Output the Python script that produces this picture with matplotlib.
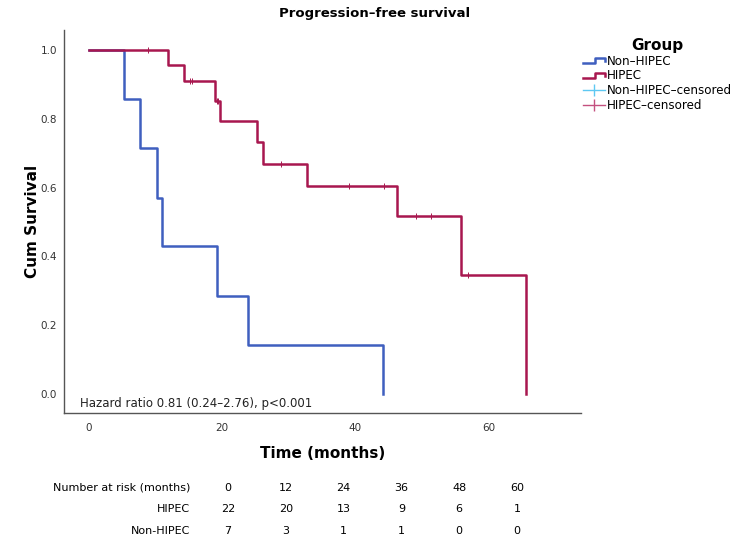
import numpy as np
import matplotlib.pyplot as plt
from matplotlib.lines import Line2D
from matplotlib.legend_handler import HandlerBase

# Kaplan-Meier steps
hipec_t = [0, 11.8, 14.3, 19.0, 19.7, 25.3, 26.2, 32.7, 46.2, 55.9, 65.7]
hipec_s = [1.0, 0.955, 0.909, 0.853, 0.795, 0.733, 0.670, 0.605, 0.518, 0.345, 0.0]
hipec_cens = [8.8, 15.1, 15.5, 19.2, 19.4, 28.9, 39.0, 44.3, 49.1, 51.3, 57.0]

non_t = [0, 5.3, 7.6, 10.2, 11.0, 19.3, 23.9, 44.2]
non_s = [1.0, 0.857, 0.714, 0.571, 0.429, 0.286, 0.143, 0.0]

risk_months = [0, 12, 24, 36, 48, 60]
risk_hipec = [22, 20, 13, 9, 6, 1]
risk_non = [7, 3, 1, 1, 0, 0]

blue = "#3f5fbf"
red = "#a8174f"
blue_c = "#5ec8f2"
red_c = "#c4507f"


def level_at(times, surv, c):
    i = np.searchsorted(times, c, side="right") - 1
    return surv[i]


class StepHandler(HandlerBase):
    def create_artists(self, legend, orig, xd, yd, w, h, fontsize, trans):
        xs = [0, 0.55 * w, 0.55 * w, w, w]
        ys = [0.15 * h, 0.15 * h, 0.75 * h, 0.75 * h, 0.45 * h]
        ln = Line2D(np.array(xs) - xd, np.array(ys) - yd, color=orig.get_color(),
                    lw=orig.get_linewidth())
        ln.set_transform(trans)
        return [ln]


fig = plt.figure(figsize=(7.5, 5.47), dpi=100)
ax = fig.add_axes([64 / 750, 1 - 413 / 547, 517 / 750, 383 / 547])

ax.step(non_t, non_s, where="post", color=blue, lw=1.8)
ax.step(hipec_t, hipec_s, where="post", color=red, lw=1.8)

hc_y = [level_at(hipec_t, hipec_s, c) for c in hipec_cens]
ax.plot(hipec_cens, hc_y, ls="none", marker="|", ms=5, mew=0.7, color=red)

ax.set_xlim(-3.75, 73.9)
ax.set_ylim(-0.055, 1.058)
ax.set_xticks([0, 20, 40, 60])
ax.set_yticks([0.0, 0.2, 0.4, 0.6, 0.8, 1.0])
ax.set_yticklabels(["0.0", "0.2", "0.4", "0.6", "0.8", "1.0"])
ax.tick_params(axis="both", length=0, labelsize=7.5, colors="#333333")
ax.tick_params(axis="x", pad=7)
ax.tick_params(axis="y", pad=5)
for s in ["top", "right"]:
    ax.spines[s].set_visible(False)
for s in ["left", "bottom"]:
    ax.spines[s].set_color("#555555")
    ax.spines[s].set_linewidth(1.0)

ax.set_xlabel("Time (months)", fontsize=11, fontweight="bold")
ax.xaxis.set_label_coords(0.5, -0.085)
ax.set_ylabel("Cum Survival", fontsize=11, fontweight="bold")
ax.yaxis.set_label_coords(-0.046, 0.5)

ax.text(0.031, 0.026, "Hazard ratio 0.81 (0.24\u20132.76), p<0.001", transform=ax.transAxes,
        fontsize=8.5, va="center", ha="left", color="#222222")

fig.text(0.5, 1 - 14 / 547, "Progression\u2013free survival", ha="center", va="center",
         fontsize=9.5, fontweight="bold")

handles = [
    Line2D([], [], color=blue, lw=1.8),
    Line2D([], [], color=red, lw=1.8),
    Line2D([], [], color=blue_c, lw=1.0, marker="|", ms=9, mew=1.0),
    Line2D([], [], color=red_c, lw=1.0, marker="|", ms=9, mew=1.0),
]
labels = ["Non\u2013HIPEC", "HIPEC", "Non\u2013HIPEC\u2013censored", "HIPEC\u2013censored"]
leg = fig.legend(handles, labels, loc="upper left", bbox_to_anchor=(578 / 750, 1 - 33 / 547),
                 frameon=False, fontsize=8.6, title="Group", handlelength=1.9,
                 handletextpad=0.15, labelspacing=0.15, borderaxespad=0,
                 handler_map={handles[0]: StepHandler(), handles[1]: StepHandler()})
leg.get_title().set_fontsize(11)
leg.get_title().set_fontweight("bold")

# number at risk table
tfont = dict(fontsize=8, va="center")
rows = [("Number at risk (months)", risk_months, 488),
        ("HIPEC", risk_hipec, 509),
        ("Non-HIPEC", risk_non, 531)]
for name, vals, ypx in rows:
    fig.text(190 / 750, 1 - ypx / 547, name, ha="right", **tfont)
    for i, v in enumerate(vals):
        fig.text((228 + 57.8 * i) / 750, 1 - ypx / 547, str(v), ha="center", **tfont)

fig.savefig("out.png", dpi=100)
